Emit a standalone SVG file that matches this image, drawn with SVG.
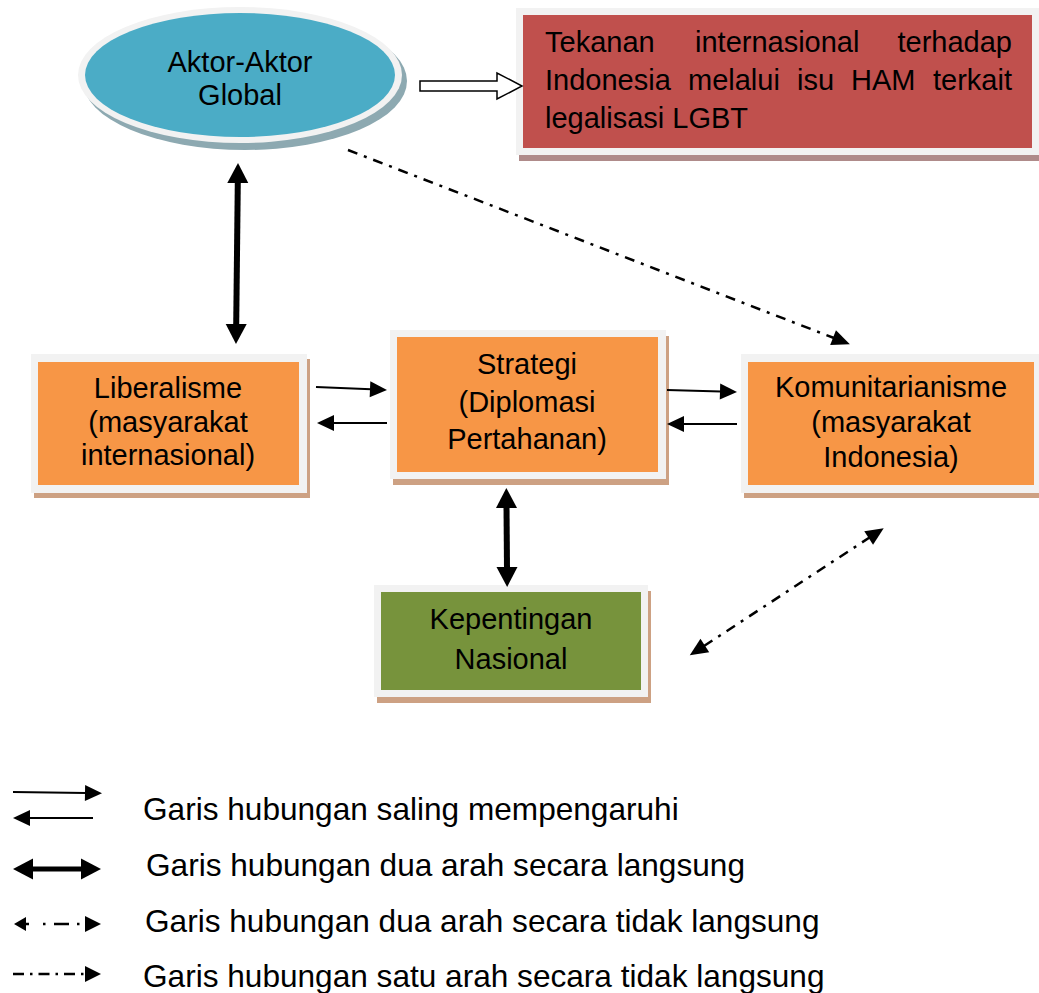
<svg xmlns="http://www.w3.org/2000/svg" width="1039" height="993" viewBox="0 0 1039 993">
<style>
  .t { font-family: "Liberation Sans", Arial, sans-serif; font-size: 29px; fill: #000; }
  .c { text-anchor: middle; }
  .e { text-anchor: end; }
  .lg { font-size: 31.6px; }
  .rim { fill: #F2F2F2; }
  .sh { fill: #CDA183; }
  .orange { fill: #F79646; }
  .thin { stroke: #000; stroke-width: 2; fill: none; }
  .thick { stroke: #000; stroke-width: 6; fill: none; }
  .dd { stroke: #000; stroke-width: 2.5; fill: none; stroke-dasharray: 10 7 3 7; }
</style>
<defs>
  <marker id="ah" markerUnits="userSpaceOnUse" markerWidth="18" markerHeight="16" refX="1" refY="8" orient="auto-start-reverse" overflow="visible">
    <path d="M0,0 L17,8 L0,16 z" fill="#000"/>
  </marker>
  <marker id="ahBig" markerUnits="userSpaceOnUse" markerWidth="21" markerHeight="21" refX="1" refY="10.5" orient="auto-start-reverse" overflow="visible">
    <path d="M0,0 L20,10.5 L0,21 z" fill="#000"/>
  </marker>
  <marker id="ahD" markerUnits="userSpaceOnUse" markerWidth="18" markerHeight="18" refX="1" refY="8" orient="auto-start-reverse" overflow="visible">
    <path d="M0,0 L18,8 L0,16 z" fill="#000"/>
  </marker>
</defs>
<rect width="1039" height="993" fill="#fff"/>

<g id="aktor-global">
  <ellipse cx="245" cy="81" rx="162" ry="69" fill="#8DA9B1"/>
  <ellipse cx="240" cy="75" rx="162" ry="68" fill="#F2F2F2"/>
  <ellipse cx="240" cy="75" rx="155" ry="62" fill="#4BACC6"/>
  <text class="t c" x="240" y="72">Aktor-Aktor</text>
  <text class="t c" x="240" y="105">Global</text>
</g>

<g id="tekanan">
  <rect x="519" y="13" width="523" height="148" fill="#AF8B8A"/>
  <rect class="rim" x="516" y="8" width="526" height="147"/>
  <rect x="523" y="15" width="509" height="133" fill="#C0504D"/>
  <text class="t" y="52"><tspan x="545">Tekanan</tspan><tspan x="695">internasional</tspan><tspan x="1012" text-anchor="end">terhadap</tspan></text>
  <text class="t" y="90"><tspan x="545">Indonesia</tspan><tspan x="688">melalui</tspan><tspan x="797">isu</tspan><tspan x="851">HAM</tspan><tspan x="1012" text-anchor="end">terkait</tspan></text>
  <text class="t" x="545" y="128">legalisasi LGBT</text>
</g>

<g id="liberalisme">
  <rect class="sh" x="34" y="359" width="276" height="139"/>
  <rect class="rim" x="31" y="354" width="276" height="139"/>
  <rect class="orange" x="38" y="362" width="261" height="123"/>
  <text class="t c" x="168" y="398">Liberalisme</text>
  <text class="t c" x="168" y="432">(masyarakat</text>
  <text class="t c" x="168" y="465">internasional)</text>
</g>

<g id="strategi">
  <rect class="sh" x="393" y="336" width="276" height="149"/>
  <rect class="rim" x="390" y="330" width="276" height="149"/>
  <rect class="orange" x="397" y="337" width="261" height="135"/>
  <text class="t c" x="527" y="374">Strategi</text>
  <text class="t c" x="527" y="412">(Diplomasi</text>
  <text class="t c" x="527" y="449">Pertahanan)</text>
</g>

<g id="komunitarianisme">
  <rect class="sh" x="744" y="359" width="300" height="139"/>
  <rect class="rim" x="741" y="354" width="300" height="139"/>
  <rect class="orange" x="748" y="362" width="286" height="123"/>
  <text class="t c" x="891" y="397">Komunitarianisme</text>
  <text class="t c" x="891" y="432">(masyarakat</text>
  <text class="t c" x="891" y="467">Indonesia)</text>
</g>

<g id="kepentingan">
  <rect class="sh" x="377" y="591" width="274" height="112"/>
  <rect class="rim" x="374" y="585" width="274" height="112"/>
  <rect x="381" y="592" width="260" height="98" fill="#77933C"/>
  <text class="t c" x="511" y="629">Kepentingan</text>
  <text class="t c" x="511" y="669">Nasional</text>
</g>

<g id="connectors">
  <polygon points="420,81 497,81 497,73 522,86 497,99 497,91 420,91" fill="#fff" stroke="#000" stroke-width="1.5"/>
  <line class="thick" x1="237.8" y1="182" x2="236.2" y2="325" marker-start="url(#ahBig)" marker-end="url(#ahBig)"/>
  <line class="thick" x1="506.5" y1="507" x2="507" y2="568" marker-start="url(#ahBig)" marker-end="url(#ahBig)"/>
  <line class="thin" x1="316" y1="387" x2="371" y2="389.3" marker-end="url(#ah)"/>
  <line class="thin" x1="387" y1="423" x2="333" y2="423" marker-end="url(#ah)"/>
  <line class="thin" x1="667" y1="390" x2="721" y2="391.5" marker-end="url(#ah)"/>
  <line class="thin" x1="737" y1="424" x2="683" y2="424" marker-end="url(#ah)"/>
  <line class="dd" x1="348" y1="150" x2="834" y2="338" marker-end="url(#ahD)"/>
  <line class="dd" x1="704" y1="646" x2="869.5" y2="537.5" marker-start="url(#ahD)" marker-end="url(#ahD)"/>
</g>

<g id="legend">
  <line class="thin" x1="13" y1="792" x2="86" y2="793" marker-end="url(#ah)"/>
  <line class="thin" x1="93" y1="818" x2="29" y2="818" marker-end="url(#ah)"/>
  <line stroke="#000" stroke-width="5" x1="32" y1="869" x2="82" y2="869" marker-start="url(#ahBig)" marker-end="url(#ahBig)"/>
  <path d="M14,924 L26,917 L26,931 z" fill="#000"/>
  <line stroke="#000" stroke-width="2.5" x1="24" y1="924" x2="86" y2="924" stroke-dasharray="5 14 2.5 8.5 15 8 2.5 100"/>
  <path d="M101,924 L85,916 L85,932 z" fill="#000"/>
  <line stroke="#000" stroke-width="2.5" x1="13" y1="974" x2="87" y2="974" stroke-dasharray="11 6 2.5 6"/>
  <path d="M101,974 L85,966 L85,982 z" fill="#000"/>
  <text class="t lg" x="143" y="820">Garis hubungan saling mempengaruhi</text>
  <text class="t lg" x="146" y="876">Garis hubungan dua arah secara langsung</text>
  <text class="t lg" x="145" y="932">Garis hubungan dua arah secara tidak langsung</text>
  <text class="t lg" x="143" y="987">Garis hubungan satu arah secara tidak langsung</text>
</g>
</svg>
